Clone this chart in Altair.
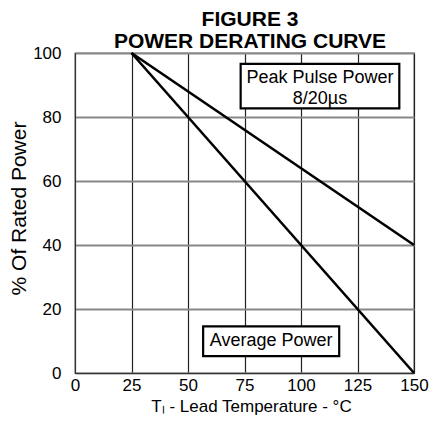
import altair as alt
import pandas as pd

# Data
temps = [25, 150]
avg_power = [100, 0]
peak_power = [100, 40]
x_ticks = [0, 25, 50, 75, 100, 125, 150]
y_ticks = [0, 20, 40, 60, 80, 100]
title_lines = ["FIGURE 3", "POWER DERATING CURVE"]

lines_df = pd.DataFrame({
    "temp": temps * 2,
    "pct": avg_power + peak_power,
    "series": ["Average Power"] * 2 + ["Peak Pulse Power"] * 2,
})

box_labels = ["Peak Pulse Power", "Average Power"]
box_x1 = [73.3, 56.7]
box_x2 = [143.5, 116.9]
box_y1 = [82.7, 5.3]
box_y2 = [96.6, 14.6]
boxes_df = pd.DataFrame({"label": box_labels, "x1": box_x1, "x2": box_x2,
                         "y1": box_y1, "y2": box_y2})

text_lines = ["Peak Pulse Power", "8/20µs", "Average Power"]
text_x = [108.4, 108.4, 86.8]
text_y = [90.7, 84.2, 8.4]
text_df = pd.DataFrame({"t": text_lines, "x": text_x, "y": text_y})

FONT = "Liberation Sans"
W, H = 339, 320

xs = alt.Scale(domain=[0, 150], nice=False, zero=False)
ys = alt.Scale(domain=[0, 100], nice=False, zero=False)

base_x = alt.X("temp:Q", scale=xs,
               axis=alt.Axis(values=x_ticks, title="Tₗ - Lead Temperature - °C",
                             grid=True, gridColor="#222222", gridWidth=1.2,
                             ticks=False, labelPadding=4, labelFontSize=17,
                             labelFont=FONT, labelColor="#000",
                             domainColor="#333", titleFont=FONT,
                             titleFontSize=17, titleFontWeight="normal",
                             titleColor="#000", titleY=38, titleX=176,
                             titleBaseline="alphabetic", labelFlush=False))
base_y = alt.Y("pct:Q", scale=ys,
               axis=alt.Axis(values=y_ticks, title="% Of Rated Power",
                             grid=True, gridColor="#888888", gridWidth=2,
                             ticks=False, labelPadding=14, labelFontSize=17,
                             labelFont=FONT, labelColor="#000",
                             domainColor="#333", titleFont=FONT,
                             titleFontSize=21, titleFontWeight="normal",
                             titleColor="#000", titleAngle=270,
                             titleX=-56, titleY=155, titleAlign="center",
                             titleBaseline="middle", labelFlush=False))

lines = alt.Chart(lines_df).mark_line(color="black", strokeWidth=2.6).encode(
    x=base_x, y=base_y, detail="series:N")

boxes = alt.Chart(boxes_df).mark_rect(fill="white", stroke="black", strokeWidth=2.2).encode(
    x=alt.X("x1:Q", scale=xs), x2="x2:Q",
    y=alt.Y("y1:Q", scale=ys), y2="y2:Q")

texts = alt.Chart(text_df).mark_text(font=FONT, fontSize=18, color="black",
                                     align="center", baseline="alphabetic").encode(
    x=alt.X("x:Q", scale=xs), y=alt.Y("y:Q", scale=ys), text="t:N")

title1 = alt.Chart(pd.DataFrame({"t": [title_lines[0]]})).mark_text(
    font=FONT, fontSize=21, fontWeight="bold", color="black",
    align="center", baseline="alphabetic").encode(
    x=alt.value(175), y=alt.value(-27), text="t:N")
title2 = alt.Chart(pd.DataFrame({"t": [title_lines[1]]})).mark_text(
    font=FONT, fontSize=21, fontWeight="bold", color="black",
    align="center", baseline="alphabetic").encode(
    x=alt.value(175), y=alt.value(-5), text="t:N")

chart = alt.layer(lines, boxes, texts, title1, title2).properties(
    width=W, height=H,
    padding={"left": 67, "top": 45, "right": 15, "bottom": 44},
    autosize=alt.AutoSizeParams(type="none"),
).configure_view(stroke="black", strokeWidth=1.2)

chart.save("out.html", embed_options={"renderer": "svg", "actions": False})
